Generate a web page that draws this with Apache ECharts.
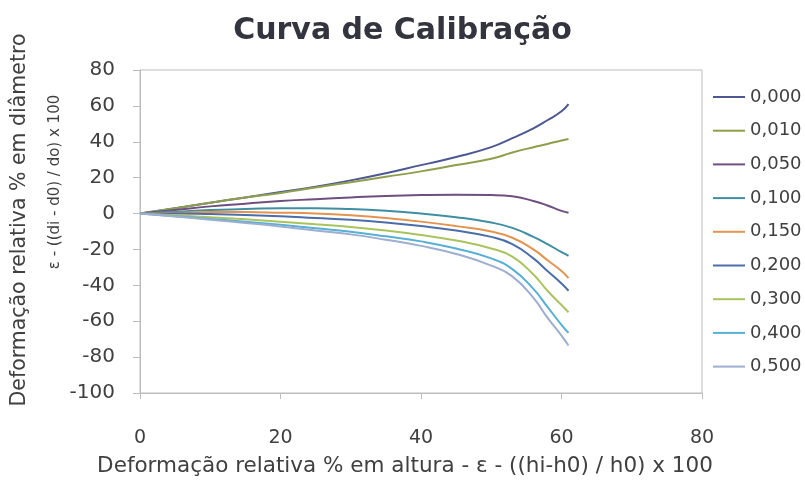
<!DOCTYPE html>
<html>
<head>
<meta charset="utf-8">
<script src="https://cdn.jsdelivr.net/npm/echarts@6/dist/echarts.min.js"></script>
<style>html,body{margin:0;padding:0;background:#fff}#c{width:805px;height:485px}</style>
</head>
<body>
<div id="c"></div>
<script>
const xValues = [0, 5, 10, 15, 20, 25, 30, 35, 40, 45, 50, 53, 56, 58, 60, 61];
const seriesNames = ['0,000','0,010','0,050','0,100','0,150','0,200','0,300','0,400','0,500'];
const s000 = [0, 3, 6, 9, 12, 15, 18.5, 22.5, 27, 31.5, 37, 42, 47.5, 52, 57, 61];
const s010 = [0, 3, 6, 9, 11.5, 14.5, 17.5, 20.5, 23.5, 27, 30.5, 34, 37, 38.8, 40.7, 41.5];
const s050 = [0, 2, 4, 5.5, 7, 8, 9, 9.8, 10.3, 10.5, 10.3, 9.6, 7, 4.5, 1.5, 0.5];
const s100 = [0, 1, 2, 2.5, 3, 3, 2.5, 1.5, 0, -2, -5, -8, -13, -17, -21.5, -23.5];
const s150 = [0, 0.5, 0.8, 0.8, 0.5, 0, -1, -2.5, -4.5, -7, -10, -13.5, -20, -26, -32, -36];
const s200 = [0, 0, -0.3, -0.8, -1.5, -2.5, -3.5, -5, -7, -9.5, -13, -17, -25, -32, -39, -43];
const s300 = [0, -1, -2, -3.2, -4.5, -6, -7.5, -9.5, -12, -15, -19.5, -24, -34, -43, -51, -55];
const s400 = [0, -1.5, -3, -4.6, -6.3, -8.2, -10.2, -12.7, -15.5, -19.5, -25, -31, -42, -52, -62, -66.5];
const s500 = [0, -1.7, -3.4, -5.2, -7.2, -9.4, -11.6, -14.6, -18, -22.5, -29, -35, -47, -58, -68, -73.5];
const seriesValues = [s000, s010, s050, s100, s150, s200, s300, s400, s500];
const colors = ['#4D5893', '#8E9E4C', '#6E4F80', '#3F8EA2', '#E39450', '#4B6EA9', '#A9C45E', '#57B0D3', '#9DAED0'];
const yTicks = {min: -100, max: 80, interval: 20};
const xTicks = {min: 0, max: 80, interval: 20};

const chart = echarts.init(document.getElementById('c'), null, {renderer: 'canvas'});
const txt = '#404040';
const font = '"DejaVu Sans", "Liberation Sans", sans-serif';
chart.setOption({
  animation: false,
  color: colors,
  title: {
    text: 'Curva de Calibração', left: 'center', top: 11,
    textStyle: {fontFamily: font, fontSize: 30, fontWeight: 'bold', color: '#34343f'}
  },
  grid: {left: 140, right: 103, top: 70, bottom: 92, show: true, borderColor: '#bdbdbd', borderWidth: 1},
  legend: {
    orient: 'vertical', left: 707, top: 83, itemWidth: 32, itemHeight: 14, itemGap: 15.7,
    data: seriesNames,
    itemStyle: {opacity: 0},
    textStyle: {fontFamily: font, fontSize: 18, color: txt}
  },
  xAxis: {
    type: 'value', min: xTicks.min, max: xTicks.max, interval: xTicks.interval,
    axisLine: {show: true, onZero: false, lineStyle: {color: '#bdbdbd'}},
    axisTick: {show: true, length: 6, lineStyle: {color: '#bdbdbd'}},
    splitLine: {show: false},
    axisLabel: {fontFamily: font, fontSize: 19, color: txt, margin: 36}
  },
  yAxis: {
    type: 'value', min: yTicks.min, max: yTicks.max, interval: yTicks.interval,
    axisLine: {show: true, onZero: false, lineStyle: {color: '#bdbdbd'}},
    axisTick: {show: true, length: 7, lineStyle: {color: '#bdbdbd'}},
    splitLine: {show: false},
    axisLabel: {fontFamily: font, fontSize: 20, color: txt, margin: 25}
  },
  graphic: [
    {type: 'text', x: 405, y: 466, style: {text: 'Deformação relativa % em altura - ε - ((hi-h0) / h0) x 100', font: '21.5px "DejaVu Sans", sans-serif', fill: txt, align: 'center', verticalAlign: 'middle'}},
    {type: 'text', x: 20, y: 220, rotation: Math.PI / 2, style: {text: 'Deformação relativa % em diâmetro', font: '20.5px "DejaVu Sans", sans-serif', fill: txt, align: 'center', verticalAlign: 'middle'}},
    {type: 'text', x: 55, y: 182, rotation: Math.PI / 2, style: {text: 'ε - ((di - d0) / do) x 100', font: '15px "DejaVu Sans", sans-serif', fill: txt, align: 'center', verticalAlign: 'middle'}}
  ],
  series: seriesNames.map((n, i) => ({
    name: n, type: 'line', smooth: true, symbol: 'none',
    lineStyle: {width: 2, color: colors[i]},
    itemStyle: {color: colors[i]},
    data: xValues.map((x, j) => [x, seriesValues[i][j]])
  }))
});
</script>
</body>
</html>
